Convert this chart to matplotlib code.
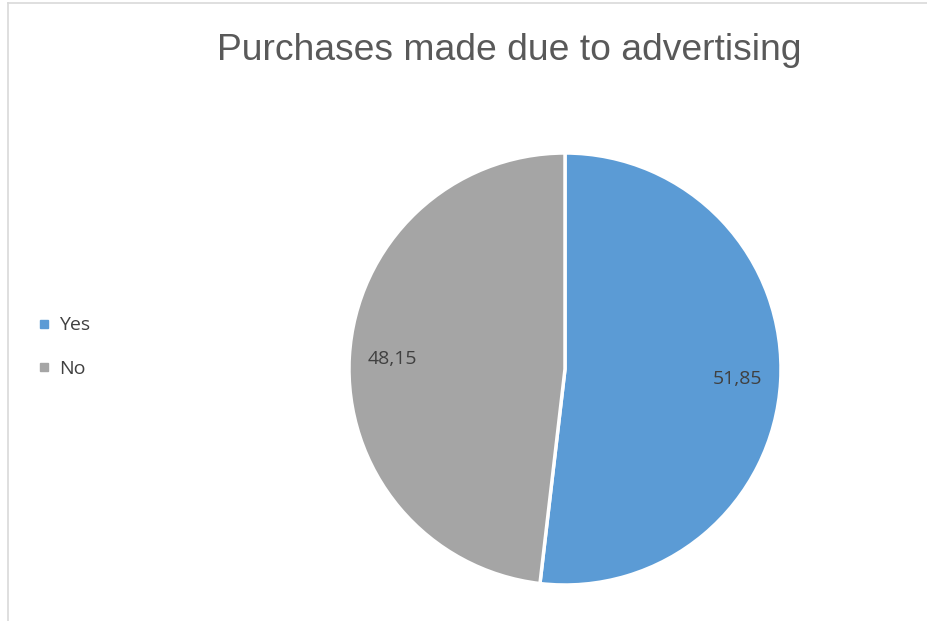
import matplotlib
matplotlib.use("Agg")
import matplotlib.pyplot as plt
import numpy as np
from matplotlib.lines import Line2D

# Survey answers (percent)
categories = ["Yes", "No"]
values = [51.85, 48.15]
colors = ["#5B9BD5", "#A5A5A5"]
title = "Purchases made due to advertising"

W, H = 927, 621
fig = plt.figure(figsize=(W / 100, H / 100), dpi=100)
fig.patch.set_facecolor("white")

# chart frame (only top and left edges fall inside the canvas)
fig.add_artist(Line2D([8 / W, 8 / W], [0, 1 - 3 / H], color="#D9D9D9", lw=1.2))
fig.add_artist(Line2D([8 / W, 1], [1 - 3 / H, 1 - 3 / H], color="#D9D9D9", lw=1.2))

cx, cy, r = 565, 369, 216
ax = fig.add_axes([(cx - r) / W, (H - cy - r) / H, 2 * r / W, 2 * r / H])
wedges, _ = ax.pie(values, colors=colors, startangle=90, counterclock=False,
                   wedgeprops=dict(edgecolor="white", linewidth=2.5))
ax.set_xlim(-1, 1)
ax.set_ylim(-1, 1)
ax.axis("off")

for w, v in zip(wedges, values):
    mid = np.deg2rad((w.theta1 + w.theta2) / 2)
    ax.text(0.8 * np.cos(mid), 0.8 * np.sin(mid), f"{v:.2f}".replace(".", ","),
            ha="center", va="center", fontsize=14, color="#404040",
            family="Open Sans")

fig.text(509 / W, 1 - 50 / H, title, ha="center", va="center",
         fontsize=26.8, color="#595959", family="Liberation Sans")

handles = [Line2D([], [], marker="s", linestyle="none", markersize=6,
                  markerfacecolor=c, markeredgecolor=c) for c in colors]
fig.legend(handles, categories, loc="center left",
           bbox_to_anchor=(21 / W, 1 - 347 / H), frameon=False,
           prop=dict(family="Open Sans", size=14), labelcolor="#404040",
           handlelength=0.6, handletextpad=0.45, labelspacing=1.3)

fig.savefig("out.png", dpi=100, facecolor="white")
